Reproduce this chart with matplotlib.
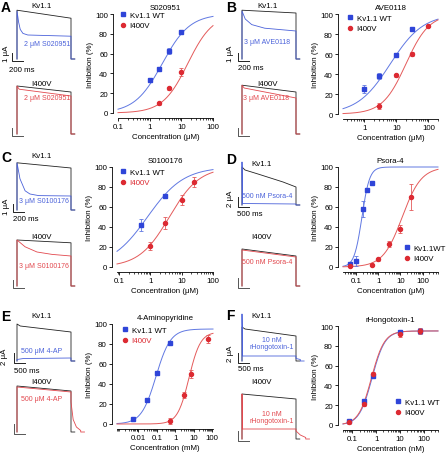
# -*- coding: utf-8 -*-
"""
Kv1.1 / I400V block: current traces and dose-response curves (panels A-F)
"""

import numpy as np
import matplotlib
matplotlib.use('Agg')
import matplotlib.pyplot as plt
from matplotlib.lines import Line2D
from matplotlib.ticker import FixedLocator, LogLocator, NullFormatter, FuncFormatter

# ---------------- DATA ----------------
# dose-response points: concentration, inhibition (%), error
# fits: (IC50, Hill n, top)
A_wt_conc = [1, 2, 4, 10]
A_wt_inh = [33, 44, 63, 82]
A_wt_err = [1, 1.5, 3, 1]
A_mut_conc = [2, 4, 10]
A_mut_inh = [10, 25, 41]
A_mut_err = [1.5, 1.5, 4]
A_fit = [(2.5, 1.0, 100), (16, 1.1, 100)]

B_wt_conc = [1, 3, 10, 30]
B_wt_inh = [25, 38, 59, 85]
B_wt_err = [4, 3, 2, 1]
B_mut_conc = [3, 10, 30, 100]
B_mut_inh = [8, 39, 60, 88]
B_mut_err = [3, 1.5, 2, 1]
B_fit = [(6.5, 0.85, 100), (20, 1.2, 100)]

C_wt_conc = [0.5, 3]
C_wt_inh = [42, 71]
C_wt_err = [6, 2]
C_mut_conc = [1, 3, 10, 25]
C_mut_inh = [21, 44, 67, 85]
C_mut_err = [4, 6, 5, 5]
C_fit = [(0.8, 0.75, 100), (4, 0.9, 100)]

D_wt_conc = [0.05, 0.1, 0.2, 0.3, 0.5]
D_wt_inh = [3, 6, 58, 77, 84]
D_wt_err = [2, 5, 8, 2, 2]
D_mut_conc = [0.05, 0.5, 1, 3, 10, 30]
D_mut_inh = [1, 2, 8, 23, 38, 70]
D_mut_err = [1, 1, 1.5, 3, 4, 13]
D_fit = [(0.18, 2.5, 100), (12, 1.0, 100)]

E_wt_conc = [0.005, 0.03, 0.1, 0.5]
E_wt_inh = [5, 24, 51, 81]
E_wt_err = [1, 2, 2, 1]
E_mut_conc = [0.5, 3, 7, 60]
E_mut_inh = [3, 29, 50, 85]
E_mut_err = [3, 3, 4, 4]
E_fit = [(0.09, 1.1, 95), (5.5, 1.4, 92)]

F_wt_conc = [0.07, 0.3, 0.7, 10, 70]
F_wt_inh = [4, 24, 50, 94, 95]
F_wt_err = [1.5, 2, 2, 2, 3]
F_mut_conc = [0.07, 0.3, 0.7, 10, 70]
F_mut_inh = [3, 21, 52, 92, 95]
F_mut_err = [1.5, 2, 2, 3, 3]
F_fit = [(0.67, 1.6, 95), (0.63, 1.6, 95)]

# current traces: (time ms, current uA) during the pulse
A_traces = {'wt_ctrl': ([0, 1000], [6.1, 5.1]),
            'wt_drug': ([0, 30, 60, 110, 200, 1000], [6.0, 4.6, 3.7, 3.2, 3.0, 2.85]),
            'mut_ctrl': ([0, 1000], [6.0, 5.25]),
            'mut_drug': ([0, 40, 1000], [6.0, 5.6, 4.75])}
B_traces = {'wt_ctrl': ([0, 1000], [6.1, 5.75]),
            'wt_drug': ([0, 60, 180, 420, 1000], [6.0, 5.0, 4.3, 3.85, 3.5]),
            'mut_ctrl': ([0, 1000], [6.1, 5.25]),
            'mut_drug': ([0, 40, 1000], [6.1, 5.75, 4.5])}
C_traces = {'wt_ctrl': ([0, 1000], [5.9, 5.25]),
            'wt_drug': ([0, 55, 150, 240, 400, 1000], [5.9, 3.9, 2.4, 2.0, 1.8, 1.75]),
            'mut_ctrl': ([0, 1000], [5.75, 5.4]),
            'mut_drug': ([0, 150, 370, 650, 1000], [5.75, 4.9, 4.25, 3.95, 3.75])}
D_traces = {'wt_ctrl': ([0, 140, 740, 1900, 2500], [7.6, 7.0, 6.2, 4.6, 3.6]),
            'wt_drug': ([0, 25, 2500], [8.6, 0.3, 0.2]),
            'mut_ctrl': ([0, 2500], [7.4, 6.0]),
            'mut_drug': ([0, 2500], [7.2, 5.8])}
E_traces = {'wt_ctrl': ([0, 150, 2500], [7.4, 7.0, 5.8]),
            'wt_drug': ([0, 300, 2500], [0.3, 0.5, 0.6]),
            'mut_ctrl': ([0, 2500], [9.2, 8.2]),
            'mut_drug': ([0, 2500, 2500, 2600, 2750, 2950], [9.0, 8.0, 6.0, 2.5, 1.0, 0.3])}
F_traces = {'wt_ctrl': ([0, 140, 2500], [6.8, 6.4, 5.0]),
            'wt_drug': ([0, 25, 2500, 2500, 2700], [9.4, 1.0, 1.0, 0.5, 0.3]),
            'mut_ctrl': ([0, 2500], [9.0, 8.0]),
            'mut_drug': ([0, 25, 2500, 2500, 2700, 2950], [9.0, 2.0, 2.0, 1.6, 0.8, 0.3])}

# ---------------- STYLE ----------------
plt.rcParams['font.family'] = ['Liberation Sans', 'DejaVu Sans']
FS = 5.7
plt.rcParams['font.size'] = FS
plt.rcParams['axes.linewidth'] = 0.6

BLUE = '#2f45d8'
RED = '#dc2a32'
BLUE_LN = '#6078e2'
RED_LN = '#e45a5a'
BLUE_TR = '#4b62da'
RED_TR = '#e2484e'
BLACK_TR = '#222222'

W, H = 447, 456
fig = plt.figure(figsize=(W / 100, H / 100), dpi=100)
ONSET = 17   # px from panel left where the pulse starts
PULSE = 54   # px width of the pulse


def ptext(x, y, s, **kw):
    kw.setdefault('ha', 'center')
    kw.setdefault('va', 'center')
    fig.text(x / W, 1 - y / H, s, **kw)


def hill(x, ic50, n, top):
    return top / (1 + (ic50 / x) ** n)


def dose_axes(box, xlim, xticks, title, xlabel, wt, mut, fits, leg_xy, labels, mut_red):
    l, r, t, b = box
    ax = fig.add_axes([l / W, 1 - b / H, (r - l) / W, (b - t) / H])
    ax.set_xscale('log')
    ax.set_xlim(*xlim)
    ax.set_ylim(0, 100)
    xs = np.logspace(np.log10(xlim[0]), np.log10(xlim[1]), 300)
    ax.plot(xs, hill(xs, *fits[0]), color=BLUE_LN, lw=0.7, zorder=2, clip_on=False)
    ax.plot(xs, hill(xs, *fits[1]), color=RED_LN, lw=0.7, zorder=2, clip_on=False)
    ax.errorbar(wt[0], wt[1], yerr=wt[2], fmt='s', ms=2.6, color=BLUE, ecolor=BLUE_LN,
                elinewidth=0.6, capsize=1.3, capthick=0.6, zorder=3, clip_on=False)
    ax.errorbar(mut[0], mut[1], yerr=mut[2], fmt='o', ms=2.9, color=RED, ecolor=RED_LN,
                elinewidth=0.6, capsize=1.3, capthick=0.6, zorder=3, clip_on=False)
    for s in ['top', 'right']:
        ax.spines[s].set_visible(False)
    for s in ['left', 'bottom']:
        ax.spines[s].set_position(('outward', 3.6))
    ax.xaxis.set_major_locator(FixedLocator(xticks))
    ax.xaxis.set_major_formatter(FuncFormatter(lambda v, p: '%g' % v))
    ax.xaxis.set_minor_locator(LogLocator(base=10, subs=np.arange(2, 10), numticks=20))
    ax.xaxis.set_minor_formatter(NullFormatter())
    ax.set_yticks([0, 20, 40, 60, 80, 100])
    ax.tick_params(which='major', length=2.2, width=0.6, pad=1.5, labelsize=FS)
    ax.tick_params(which='minor', length=1.2, width=0.5)
    ax.set_title(title, fontsize=FS, pad=3.5)
    ax.set_xlabel(xlabel, fontsize=FS, labelpad=2)
    ax.set_ylabel('Inhibition (%)', fontsize=FS, labelpad=1)
    # legend with its first marker at leg_xy (figure px)
    fs_px = FS * 100 / 72
    hx = leg_xy[0] - 0.4 * fs_px
    ty = leg_xy[1] - 0.62 * fs_px
    handles = [Line2D([], [], ls='none', marker='s', ms=2.6, color=BLUE),
               Line2D([], [], ls='none', marker='o', ms=2.9, color=RED)]
    leg = ax.legend(handles, labels, loc='upper left',
                    bbox_to_anchor=((hx - l) / (r - l), (b - ty) / (b - t)),
                    frameon=False, handlelength=0.8, handletextpad=0.45,
                    borderpad=0, borderaxespad=0, labelspacing=0.4, fontsize=FS)
    if mut_red:
        leg.get_texts()[1].set_color(RED)
    return ax


def trace_inset(ox, oy, y0, y1, base, T, ppu):
    ax = fig.add_axes([(ox + 2) / W, 1 - (oy + y1) / H, 84 / W, (y1 - y0) / H])
    ax.set_xlim((2 - ONSET) / PULSE * T, (86 - ONSET) / PULSE * T)
    ax.set_ylim((base - y1) / ppu, (base - y0) / ppu)
    ax.axis('off')
    return ax


def draw_trace(ax, tr, color, T):
    t, i = tr
    ax.plot([0] + t + [t[-1], t[-1] + 0.07 * T], [0] + i + [0, 0],
            color=color, lw=0.6, clip_on=False)


def scale_bar(ax, tb, ib, dt, di, color):
    ax.plot([tb, tb, tb + dt], [ib + di, ib, ib], color=color, lw=0.7, clip_on=False)


def trace_panel(ox, oy, tr, T, ppu, bases, bar, bar_txt, bar_txt_pos, titles_pos,
                drug_lbl, drug_pos):
    # top: Kv1.1 WT
    ax1 = trace_inset(ox, oy, 2, 72, bases[0], T, ppu)
    draw_trace(ax1, tr['wt_ctrl'], BLACK_TR, T)
    draw_trace(ax1, tr['wt_drug'], BLUE_TR, T)
    tb = (bar[0] - ONSET) / PULSE * T
    scale_bar(ax1, tb, -0.3, bar[1], bar[2], '#222222')
    # bottom: I400V
    ax2 = trace_inset(ox, oy, 78, 146, bases[1], T, ppu)
    draw_trace(ax2, tr['mut_ctrl'], BLACK_TR, T)
    draw_trace(ax2, tr['mut_drug'], RED_TR, T)
    scale_bar(ax2, tb, -0.3, bar[1], bar[2], '#555555')
    ptext(ox + titles_pos[0][0], oy + titles_pos[0][1], 'Kv1.1')
    ptext(ox + titles_pos[1][0], oy + titles_pos[1][1], 'I400V')
    ptext(ox + bar_txt_pos[0][0], oy + bar_txt_pos[0][1], bar_txt[0], rotation=90)
    ptext(ox + bar_txt_pos[1][0], oy + bar_txt_pos[1][1], bar_txt[1])
    ptext(ox + drug_pos[0][0], oy + drug_pos[0][1], drug_lbl, color=BLUE_TR,
          fontsize=5.0, linespacing=1.1)
    ptext(ox + drug_pos[1][0], oy + drug_pos[1][1], drug_lbl, color=RED_TR,
          fontsize=5.0, linespacing=1.1)


WT_LBL = ['Kv1.1 WT', 'I400V']

# ---------------- PANEL A ----------------
trace_panel(0, 0, A_traces, 1000, 8, (60, 135), (12, 200, 1), ('1 μA', '200 ms'),
            ((6, 54), (22, 70)), ((42, 7), (42, 84)), '2 μM S020951', ((47, 44), (47, 99)))
dose_axes((118, 213, 15, 114), (0.1, 100), [0.1, 1, 10, 100], 'S020951',
          'Concentration (μM)', (A_wt_conc, A_wt_inh, A_wt_err),
          (A_mut_conc, A_mut_inh, A_mut_err), A_fit, (123, 17), WT_LBL, False)

# ---------------- PANEL B ----------------
trace_panel(225, 0, B_traces, 1000, 8, (60, 135), (13, 200, 1), ('1 μA', '200 ms'),
            ((6, 54), (26, 69)), ((43, 7), (43, 84)), '3 μM AVE0118', ((42, 43), (41, 99)))
dose_axes((343, 438, 15, 115), (0.22, 200), [1, 10, 100], 'AVE0118',
          'Concentration (μM)', (B_wt_conc, B_wt_inh, B_wt_err),
          (B_mut_conc, B_mut_inh, B_mut_err), B_fit, (350, 20), WT_LBL, False)

# ---------------- PANEL C ----------------
trace_panel(0, 150, C_traces, 1000, 8, (61, 137), (13, 200, 1), ('1 μA', '200 ms'),
            ((6, 57), (26, 70)), ((42, 7), (42, 88)), '3 μM S0100176', ((44, 52), (44, 117)))
dose_axes((117, 213, 168, 268), (0.085, 100), [0.1, 1, 10, 100], 'S0100176',
          'Concentration (μM)', (C_wt_conc, C_wt_inh, C_wt_err),
          (C_mut_conc, C_mut_inh, C_mut_err), C_fit, (123, 174), WT_LBL, True)

# ---------------- PANEL D ----------------
trace_panel(225, 150, D_traces, 2500, 5, (56, 137), (13, 500, 2), ('2 μA', '500 ms'),
            ((5, 49), (25, 65)), ((37, 15), (37, 88)), '500 nM Psora-4', ((42, 47), (42, 113)))
dose_axes((343, 438, 168, 268), (0.025, 500), [0.1, 1, 10, 100], 'Psora-4',
          'Concentration (μM)', (D_wt_conc, D_wt_inh, D_wt_err),
          (D_mut_conc, D_mut_inh, D_mut_err), D_fit, (407, 250), ['Kv1.1WT', 'I400V'], False)

# ---------------- PANEL E ----------------
trace_panel(0, 300, E_traces, 2500, 5, (62, 133), (14, 500, 2), ('2 μA', '500 ms'),
            ((5, 57), (27, 72)), ((42, 16), (42, 83)), '500 μM 4-AP', ((42, 52), (42, 100)))
dose_axes((117, 213, 325, 425), (0.0007, 110), [0.01, 0.1, 1, 10, 100], '4-Aminopyridine',
          'Concentration (mM)', (E_wt_conc, E_wt_inh, E_wt_err),
          (E_mut_conc, E_mut_inh, E_mut_err), E_fit, (125, 332), WT_LBL, True)

# ---------------- PANEL F ----------------
trace_panel(225, 300, F_traces, 2500, 5, (62, 140), (13, 500, 2), ('2 μA', '500 ms'),
            ((5, 54), (26, 70)), ((37, 16), (37, 83)), '10 nM\nrHongotoxin-1',
            ((47, 44), (47, 118)))
dose_axes((343, 438, 327, 426), (0.04, 400), [0.1, 1, 10, 100], 'rHongotoxin-1',
          'Concentration (nM)', (F_wt_conc, F_wt_inh, F_wt_err),
          (F_mut_conc, F_mut_inh, F_mut_err), F_fit, (398, 404), WT_LBL, False)

# panel letters
for letter, (x, y) in zip('ABCDEF', [(1, 8), (226, 8), (1, 158), (226, 160), (1, 317), (226, 316)]):
    ptext(x, y, letter, ha='left', fontsize=10, fontweight='bold')

fig.savefig('out.png', dpi=100)
